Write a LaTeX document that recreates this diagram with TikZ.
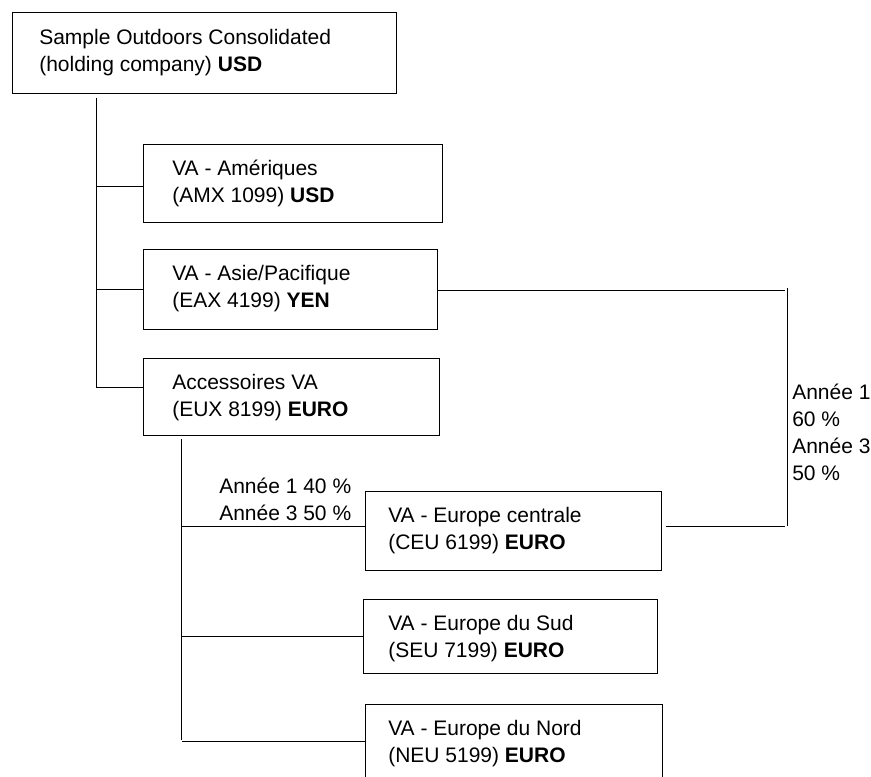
\documentclass[tikz,border=0pt]{standalone}
\usepackage{fontspec}
\setmainfont{Liberation Sans}
\usetikzlibrary{fit}
\begin{document}
\begin{tikzpicture}[x=0.75pt,y=-0.75pt,
  box/.style={draw=black, line width=0.75pt, inner sep=0pt},
  txt/.style={anchor=base west, inner sep=0pt, font=\fontsize{15.75}{20.25}\selectfont},
  conn/.style={draw=black, line width=0.75pt}]
\useasboundingbox (0,0) rectangle (871,776);
% corner coordinates of boxes
\coordinate (rootA) at (12,12);   \coordinate (rootB) at (396,93);
\coordinate (amerA) at (143,144); \coordinate (amerB) at (442,222);
\coordinate (asieA) at (143,249); \coordinate (asieB) at (437,329);
\coordinate (accA)  at (143,358); \coordinate (accB)  at (439,435);
\coordinate (cenA)  at (365,491); \coordinate (cenB)  at (661,570);
\coordinate (sudA)  at (363,599); \coordinate (sudB)  at (657,673);
\coordinate (nordA) at (365,704); \coordinate (nordB) at (662,778);
% boxes
\node[box, fit=(rootA)(rootB)] (root) {};
\node[box, fit=(amerA)(amerB)] (amer) {};
\node[box, fit=(asieA)(asieB)] (asie) {};
\node[box, fit=(accA)(accB)] (acc) {};
\node[box, fit=(cenA)(cenB)] (cen) {};
\node[box, fit=(sudA)(sudB)] (sud) {};
\node[box, fit=(nordA)(nordB)] (nord) {};
% texts
\node[txt] (rootT) at (39,44.5) {\begin{tabular}[t]{@{}l@{}}Sample Outdoors Consolidated\\(holding company) \textbf{USD}\end{tabular}};
\node[txt] (amerT) at (172,175.5) {\begin{tabular}[t]{@{}l@{}}VA - Amériques\\(AMX 1099) \textbf{USD}\end{tabular}};
\node[txt] (asieT) at (172,280.5) {\begin{tabular}[t]{@{}l@{}}VA - Asie/Pacifique\\(EAX 4199) \textbf{YEN}\end{tabular}};
\node[txt] (accT) at (172,389.5) {\begin{tabular}[t]{@{}l@{}}Accessoires VA\\(EUX 8199) \textbf{EURO}\end{tabular}};
\node[txt] (cenT) at (388,522.5) {\begin{tabular}[t]{@{}l@{}}VA - Europe centrale\\(CEU 6199) \textbf{EURO}\end{tabular}};
\node[txt] (sudT) at (388,630) {\begin{tabular}[t]{@{}l@{}}VA - Europe du Sud\\(SEU 7199) \textbf{EURO}\end{tabular}};
\node[txt] (nordT) at (388,735.5) {\begin{tabular}[t]{@{}l@{}}VA - Europe du Nord\\(NEU 5199) \textbf{EURO}\end{tabular}};
\node[txt] (labA) at (219,493) {\begin{tabular}[t]{@{}l@{}}Année 1 40 \%\\Année 3 50 \%\end{tabular}};
\node[txt] (labB) at (792,399) {\begin{tabular}[t]{@{}l@{}}Année 1\\60 \%\\Année 3\\50 \%\end{tabular}};
% level 1 connectors
\coordinate (v1a) at (96,98); \coordinate (v1b) at (96,388);
\draw[conn] (v1a) -- (v1b);
\coordinate (h1) at (96,186); \coordinate (h2) at (96,289); \coordinate (h3) at (96,387);
\draw[conn] (h1) -- (h1 -| amer.west);
\draw[conn] (h2) -- (h2 -| asie.west);
\draw[conn] (h3) -- (h3 -| acc.west);
% level 2 connectors
\coordinate (v2a) at (181,439); \coordinate (v2b) at (181,740);
\draw[conn] (v2a) -- (v2b);
\coordinate (h4) at (181,526); \coordinate (h5) at (181,636); \coordinate (h6) at (182,741);
\draw[conn] (h4) -- (h4 -| cen.west);
\draw[conn] (h5) -- (h5 -| sud.west);
\draw[conn] (h6) -- (h6 -| nord.west);
% right bracket
\coordinate (r0) at (785,290); \coordinate (r1) at (787,288);
\coordinate (r2) at (787,526); \coordinate (r3) at (785,526);
\draw[conn] (r0 -| asie.east) -- (r0);
\draw[conn] (r1) -- (r2);
\draw[conn] ([xshift=3pt]r3 -| cen.east) -- (r3);
\end{tikzpicture}
\end{document}
